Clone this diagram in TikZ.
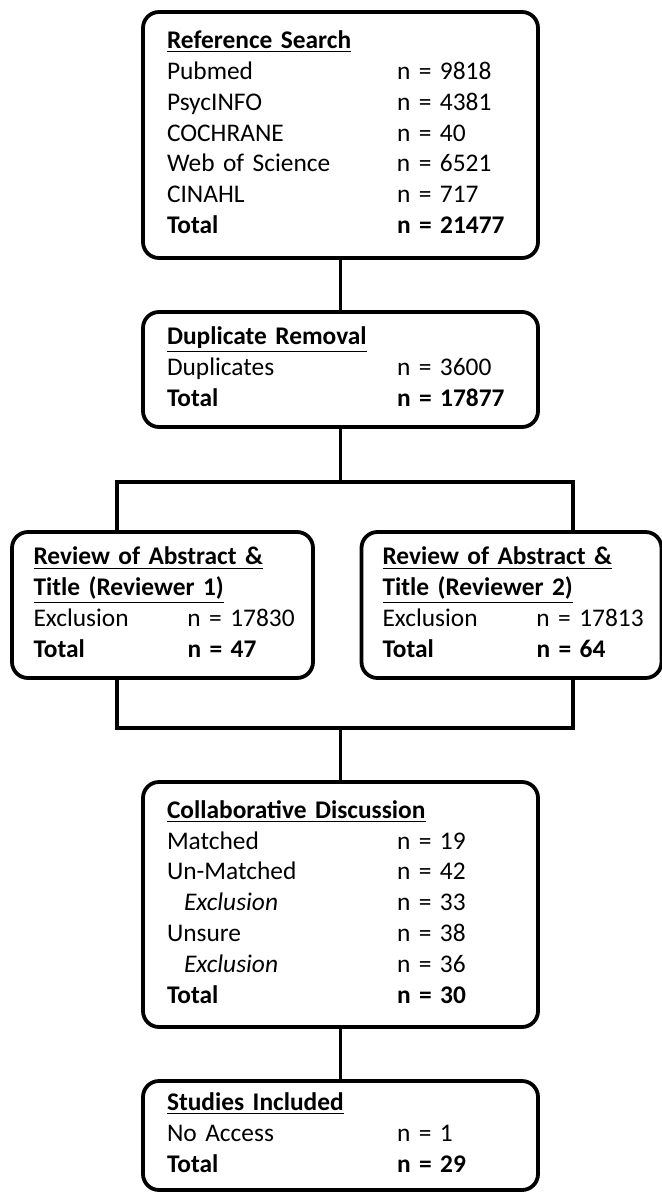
\documentclass[tikz,border=0pt]{standalone}
\usepackage{fontspec}
\setmainfont{Carlito}[WordSpace=0.8]

\newcommand{\boxtitle}[1]{\multicolumn{2}{@{}l@{}}{\underline{\textbf{#1}}}}
\newcommand{\subrow}[1]{\hspace*{8.5pt}\textit{#1}}

\tikzset{
  flowbox/.style={draw, line width=1.9pt, rounded corners=8pt, inner ysep=0pt,
    align=left, font=\fontsize{12.7}{15.4}\selectfont},
  widebox/.style={flowbox, inner xsep=12pt, minimum width=197.5pt, text width=173.5pt},
  narrowbox/.style={flowbox, inner xsep=10.5pt, minimum width=#1, text width=129pt},
  flowline/.style={line width=1.9pt},
}

\begin{document}
\begin{tikzpicture}[x=0.5pt, y=-0.5pt]
\useasboundingbox (0,0) rectangle (662,1193);

	%boxes of the flow
\node[widebox, minimum height=123pt] (search) at (340.5,135) {%
\begin{tabular}{@{}p{115pt}@{}l@{}}
\boxtitle{Reference Search} \\
Pubmed & n = 9818 \\
PsycINFO & n = 4381 \\
COCHRANE & n = 40 \\
Web of Science & n = 6521 \\
CINAHL & n = 717 \\
\textbf{Total} & \textbf{n = 21477}
\end{tabular}};

\node[widebox, minimum height=57.5pt] (dupl) at (340.5,369.5) {%
\begin{tabular}{@{}p{115pt}@{}l@{}}
\boxtitle{Duplicate Removal} \\
Duplicates & n = 3600 \\
\textbf{Total} & \textbf{n = 17877}
\end{tabular}};

\node[narrowbox=150.5pt, minimum height=73pt] (rev1) at (162.5,605) {%
\begin{tabular}{@{}p{77pt}@{}l@{}}
\boxtitle{Review of Abstract \&} \\
\boxtitle{Title (Reviewer 1)} \\
Exclusion & n = 17830 \\
\textbf{Total} & \textbf{n = 47}
\end{tabular}};

\node[narrowbox=148.5pt, minimum height=73pt] (rev2) at (511.5,605) {%
\begin{tabular}{@{}p{77pt}@{}l@{}}
\boxtitle{Review of Abstract \&} \\
\boxtitle{Title (Reviewer 2)} \\
Exclusion & n = 17813 \\
\textbf{Total} & \textbf{n = 64}
\end{tabular}};

\node[widebox, minimum height=122.5pt] (collab) at (340.5,904.5) {%
\begin{tabular}{@{}p{115pt}@{}l@{}}
\boxtitle{Collaborative Discussion} \\
Matched & n = 19 \\
Un-Matched & n = 42 \\
\subrow{Exclusion} & n = 33 \\
Unsure & n = 38 \\
\subrow{Exclusion} & n = 36 \\
\textbf{Total} & \textbf{n = 30}
\end{tabular}};

\node[widebox, minimum height=54.5pt] (incl) at (340.5,1135.5) {%
\begin{tabular}{@{}p{115pt}@{}l@{}}
\boxtitle{Studies Included} \\
No Access & n = 1 \\
\textbf{Total} & \textbf{n = 29}
\end{tabular}};

	%split and join points of the two reviewers
\coordinate (splitl) at (117,482);
\coordinate (splitr) at (573,482);
\coordinate (joinl) at (117,728);
\coordinate (joinr) at (573,728);

\draw[flowline] (search.south) -- (dupl.north);
\draw[flowline] (dupl.south) -- (dupl.south |- splitl);
\draw[flowline] (splitl |- rev1.north) -- (splitl) -- (splitr) -- (splitr |- rev2.north);
\draw[flowline] (joinl |- rev1.south) -- (joinl) -- (joinr) -- (joinr |- rev2.south);
\draw[flowline] (collab.north |- joinl) -- (collab.north);
\draw[flowline] (collab.south) -- (incl.north);

\end{tikzpicture}
\end{document}
